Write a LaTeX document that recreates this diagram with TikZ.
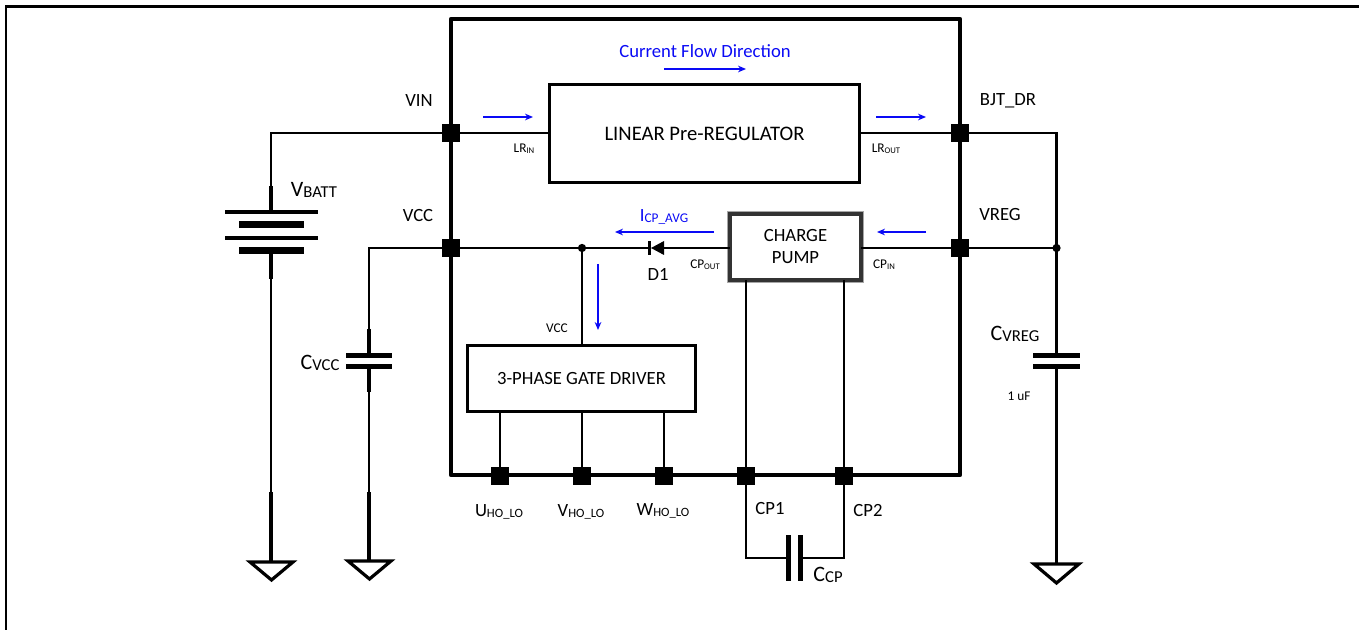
\documentclass[tikz,border=0pt]{standalone}
\usepackage{fontspec}
\setmainfont{Carlito}
\usetikzlibrary{arrows.meta,calc}
\definecolor{flow}{RGB}{10,10,245}
\newcommand{\lab}[2]{#1{\fontsize{9.5pt}{10pt}\selectfont\raisebox{-0.2ex}{#2}}}
\newcommand{\tinylab}[2]{#1{\fontsize{6.5pt}{7pt}\selectfont\raisebox{-0.2ex}{#2}}}
\tikzset{
  x=0.75pt,y=-0.75pt,
  px/.style={line width=#1*0.75pt},
  wire/.style={px=2.2,draw=black,line join=miter},
  stub/.style={px=3.2,draw=black},
  plate/.style={px=3.5,draw=black},
  fatplate/.style={px=7,draw=black},
  capplate/.style={px=5,draw=black},
  pin/.style={fill=black,draw=none,minimum size=13.5pt,inner sep=0pt,outer sep=0pt},
  junction/.style={circle,fill=black,draw=none,minimum size=6.2pt,inner sep=0pt,outer sep=0pt},
  blockbox/.style={draw=black,px=3,fill=white,inner sep=0pt,outer sep=0pt,align=center,font=\fontsize{15.5pt}{18pt}\selectfont},
  txt/.style={font=\fontsize{14pt}{16pt}\selectfont,inner sep=0pt,text=black},
  small/.style={font=\fontsize{10pt}{12pt}\selectfont,inner sep=0pt,text=black},
  flowtxt/.style={font=\fontsize{14pt}{16pt}\selectfont,inner sep=0pt,text=flow},
  flowarrow/.style={draw=flow,px=1.2,-{Stealth[length=6pt,width=5pt]}},
  gnd/.style={draw=black,px=3.2,line join=miter},
  big/.style={font=\fontsize{16.5pt}{18pt}\selectfont},
}
\newcommand{\bigsub}[2]{#1{\fontsize{12.5pt}{14pt}\selectfont\raisebox{-0.2ex}{#2}}}
\begin{document}
\begin{tikzpicture}
\useasboundingbox (0,0) rectangle (1359,630);
% outer frame
\coordinate (fa) at (6,630); \coordinate (fb) at (6,6.5); \coordinate (fc) at (1359,6.5);
\draw[px=2.2,black] (fa) -- (fb) -- (fc);
% IC outline
\draw[black,px=4.2,line join=round] (451,19) rectangle (960,475);
% blocks
\node[blockbox,minimum width=233pt,minimum height=74pt] (lin) at (704.5,133.5) {LINEAR Pre-REGULATOR};
\node[blockbox,minimum width=171.5pt,minimum height=50pt,font=\fontsize{14pt}{16pt}\selectfont] (gate) at (581.5,378.5) {3-PHASE GATE DRIVER};
\node[blockbox,preaction={draw=black!35,px=6},draw=black!80,px=3.4,minimum width=98pt,minimum height=49.5pt,font=\fontsize{14pt}{16.5pt}\selectfont] (pump) at (795.5,247) {\raisebox{-0.7pt}{CHARGE}\\\raisebox{-0.7pt}{PUMP}};
% pins
\node[pin] (pVIN) at (451,133) {};
\node[pin] (pBJT) at (960,133) {};
\node[pin] (pVCC) at (451,248) {};
\node[pin] (pVREG) at (960,248) {};
\node[pin] (pU) at (500,476) {};
\node[pin] (pV) at (582,476) {};
\node[pin] (pW) at (664,476) {};
\node[pin] (pC1) at (746,476) {};
\node[pin] (pC2) at (844,476) {};
% junctions
\node[junction] (jVCC) at (582,248) {};
\node[junction] (jVREG) at (1056.5,248) {};
% named points
\coordinate (batTop) at (271,186);
\coordinate (batP1) at (271,212);
\coordinate (batP4) at (271,251);
\coordinate (batBot) at (271,279);
\coordinate (g1top) at (271,492);
\coordinate (g1) at (271,561);
\coordinate (cvccTop) at (369,329);
\coordinate (cvccP1) at (369,356);
\coordinate (cvccP2) at (369,367);
\coordinate (cvccBot) at (369,392);
\coordinate (g2top) at (369,492);
\coordinate (g2) at (369,560);
\coordinate (cvrTop) at (1056.5,329);
\coordinate (cvrP1) at (1056.5,356);
\coordinate (cvrP2) at (1056.5,367);
\coordinate (cvrBot) at (1056.5,407);
\coordinate (g3top) at (1056.5,493);
\coordinate (g3) at (1056.5,563);
\coordinate (ccpL) at (746,558);
\coordinate (ccpR) at (844,558);
\coordinate (ccpA) at (788,558);
\coordinate (ccpB) at (800,558);
\coordinate (dA) at (664,248);
\coordinate (dB) at (651,248);
% VIN and battery
\draw[wire] (lin.west |- pVIN) -- (pVIN.center) -- (271,133) -- (batTop);
\draw[stub] (batTop) -- (batP1);
\draw[plate] (225,212) -- (318,212);
\draw[fatplate] (239,225) -- (304,225);
\draw[plate] (225,238) -- (318,238);
\draw[fatplate] (239,251) -- (304,251);
\draw[stub] (batP4) -- (batBot);
\draw[wire] (batBot) -- (g1top);
\draw[stub] (g1top) -- (g1);
\draw[gnd] (250,562) -- (293,562) -- (271.5,580) -- cycle;
% VCC cap
\draw[wire] (pVCC.center) -- (369,248) -- (cvccTop);
\draw[stub] (cvccTop) -- (cvccP1);
\draw[capplate] (346,356) -- (392,356);
\draw[capplate] (346,367) -- (392,367);
\draw[stub] (cvccP2) -- (cvccBot);
\draw[wire] (cvccBot) -- (g2top);
\draw[stub] (g2top) -- (g2);
\draw[gnd] (348,561) -- (391,561) -- (369.5,579) -- cycle;
% VCC rail and diode
\draw[wire] (pVCC.center) -- (jVCC.center) -- (dB);
\draw[wire] (dA) -- (pump.west |- dA);
\fill[black] (dB) -- (dA |- 0,241) -- (dA |- 0,255) -- cycle;
\draw[px=2.2,black] (649.5,241) -- (649.5,255);
\draw[wire] (jVCC) -- (jVCC |- gate.north);
% BJT_DR, VREG
\draw[wire] (lin.east |- pBJT) -- (pBJT.center) -- (1056.5,133) -- (jVREG.center);
\draw[wire] (pump.east |- pVREG) -- (pVREG.center) -- (jVREG.center) -- (cvrTop);
\draw[stub] (cvrTop) -- (cvrP1);
\draw[capplate] (1033,356) -- (1080,356);
\draw[capplate] (1033,367) -- (1080,367);
\draw[stub] (cvrP2) -- (cvrBot);
\draw[wire] (cvrBot) -- (g3top);
\draw[stub] (g3top) -- (g3);
\draw[gnd] (1034,564) -- (1079,564) -- (1056.5,583) -- cycle;
% driver pins
\draw[wire] (pU |- gate.south) -- (pU.center);
\draw[wire] (pV |- gate.south) -- (pV.center);
\draw[wire] (pW |- gate.south) -- (pW.center);
% charge pump outputs and CCP
\draw[wire] (pC1 |- pump.south) -- (pC1.center) -- (ccpL) -- (ccpA);
\draw[wire] (pC2 |- pump.south) -- (pC2.center) -- (ccpR) -- (ccpB);
\draw[capplate] (788,535) -- (788,581);
\draw[capplate] (800,535) -- (800,581);
% flow arrows
\coordinate (a1s) at (664,69); \coordinate (a1e) at (746,69);
\draw[flowarrow] (a1s) -- (a1e);
\coordinate (a2s) at (483,117); \coordinate (a2e) at (533,117);
\draw[flowarrow] (a2s) -- (a2e);
\coordinate (a3s) at (876,117); \coordinate (a3e) at (926,117);
\draw[flowarrow] (a3s) -- (a3e);
\coordinate (a4s) at (714,232); \coordinate (a4e) at (615,232);
\draw[flowarrow] (a4s) -- (a4e);
\coordinate (a5s) at (926,232); \coordinate (a5e) at (877,232);
\draw[flowarrow] (a5s) -- (a5e);
\coordinate (a6s) at (598,264); \coordinate (a6e) at (598,330);
\draw[flowarrow] (a6s) -- (a6e);
% labels
\node[flowtxt] (tFlow) at (705,51.5) {Current Flow Direction};
\node[flowtxt] (tIcp) at (664,217) {I{\fontsize{10pt}{12pt}\selectfont\raisebox{-0.2ex}{CP\_AVG}}};
\node[txt] (tVIN) at (419,101) {VIN};
\node[txt] (tVCC) at (418,216) {VCC};
\node[txt] (tBJT) at (1008,101) {BJT\_DR};
\node[txt] (tVREG) at (1000,215) {VREG};
\node[txt,big] (tBatt) at (314,190) {\bigsub{V}{BATT}};
\node[txt,big] (tCvcc) at (320,363) {\bigsub{C}{VCC}};
\node[txt,big] (tCvreg) at (1015,334) {\bigsub{C}{VREG}};
\node[txt,big] (tCcp) at (828,575) {\bigsub{C}{CP}};
\node[small] (t1uF) at (1019,396) {1 uF};
\node[small] (tVccS) at (557,328) {VCC};
\node[small] (tLRin) at (524,149) {\tinylab{LR}{IN}};
\node[small] (tLRout) at (886,149) {\tinylab{LR}{OUT}};
\node[small] (tCPout) at (705,265) {\tinylab{CP}{OUT}};
\node[small] (tCPin) at (884,265) {\tinylab{CP}{IN}};
\node[txt] (tD1) at (658,274) {D1};
\node[txt] (tU) at (499,512) {\lab{U}{HO\_LO}};
\node[txt] (tV) at (581,512) {\lab{V}{HO\_LO}};
\node[txt] (tW) at (663,511) {\lab{W}{HO\_LO}};
\node[txt] (tCP1) at (770,509) {CP1};
\node[txt] (tCP2) at (868,511) {CP2};
\end{tikzpicture}
\end{document}
